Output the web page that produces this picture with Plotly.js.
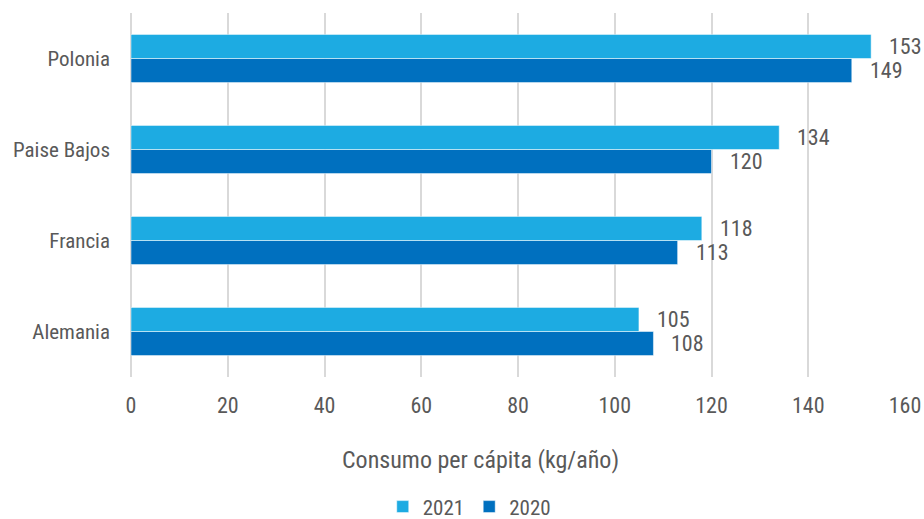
<!DOCTYPE html>
<html>
<head>
<meta charset="utf-8">
<script src="https://cdn.plot.ly/plotly-3.0.1.min.js"></script>
<style>html,body{margin:0;padding:0;background:#fff;}#chart{width:924px;height:519px;}</style>
</head>
<body>
<div id="chart"></div>
<script>
// Categories listed bottom to top
const categories = ['Alemania', 'Francia', 'Paise Bajos', 'Polonia'];
const values2021 = [105, 118, 134, 153];
const values2020 = [108, 113, 120, 149];
const seriesNames = ['2021', '2020'];
const xTicks = [0, 20, 40, 60, 80, 100, 120, 140, 160];
const xTitle = 'Consumo per cápita (kg/año)';

const FONT = '"Liberation Sans Narrow", "Roboto Condensed", "Arial Narrow", sans-serif';
const GREY = '#595959';
const C2021 = '#1DABE2';
const C2020 = '#0070BF';

const traces = [
  {
    type: 'bar', orientation: 'h', name: seriesNames[1],
    y: categories, x: values2020,
    marker: {color: C2020, line: {color: '#ffffff', width: 0.5}},
    hoverinfo: 'x'
  },
  {
    type: 'bar', orientation: 'h', name: seriesNames[0],
    y: categories, x: values2021,
    marker: {color: C2021, line: {color: '#ffffff', width: 0.5}},
    hoverinfo: 'x'
  }
];

// value labels placed just right of each bar end
const annotations = [];
categories.forEach((c, i) => {
  annotations.push({x: values2021[i], y: c, yshift: 12, xshift: 16, xanchor: 'left', yanchor: 'middle',
    text: String(values2021[i]), showarrow: false, font: {family: FONT, size: 22, color: GREY}});
  annotations.push({x: values2020[i], y: c, yshift: -12, xshift: 16, xanchor: 'left', yanchor: 'middle',
    text: String(values2020[i]), showarrow: false, font: {family: FONT, size: 22, color: GREY}});
});
// axis title (centred under the whole chart as in the original)
annotations.push({xref: 'paper', yref: 'paper', x: 0.452, y: -0.228, xanchor: 'center', yanchor: 'middle',
  text: xTitle, showarrow: false, font: {family: FONT, size: 24, color: GREY}});

const layout = {
  width: 924, height: 519,
  margin: {l: 131, r: 19, t: 13, b: 142, autoexpand: false},
  paper_bgcolor: '#ffffff', plot_bgcolor: '#ffffff',
  barmode: 'group', bargap: 0.47, bargroupgap: 0,
  font: {family: FONT, size: 21, color: GREY},
  xaxis: {
    range: [0, 160], tickvals: xTicks, ticktext: xTicks.map(String),
    showgrid: true, gridcolor: '#D9D9D9', gridwidth: 2,
    zeroline: true, zerolinecolor: '#D9D9D9', zerolinewidth: 2,
    showline: false, ticks: '', ticklabelstandoff: 13,
    tickfont: {family: FONT, size: 22, color: GREY},
    fixedrange: true, automargin: false
  },
  yaxis: {
    type: 'category', categoryorder: 'array', categoryarray: categories,
    showgrid: false, zeroline: false, showline: false, ticks: '', ticklabelstandoff: 20,
    tickfont: {family: FONT, size: 21, color: GREY},
    fixedrange: true, automargin: false
  },
  showlegend: true,
  legend: {
    orientation: 'h', traceorder: 'reversed',
    x: 0.437, xanchor: 'center', y: -0.357, yanchor: 'middle',
    font: {family: FONT, size: 21, color: GREY},
    itemwidth: 30, tracegroupgap: 0
  },
  annotations: annotations
};

Plotly.newPlot('chart', traces, layout, {displayModeBar: false, staticPlot: true});
</script>
</body>
</html>
